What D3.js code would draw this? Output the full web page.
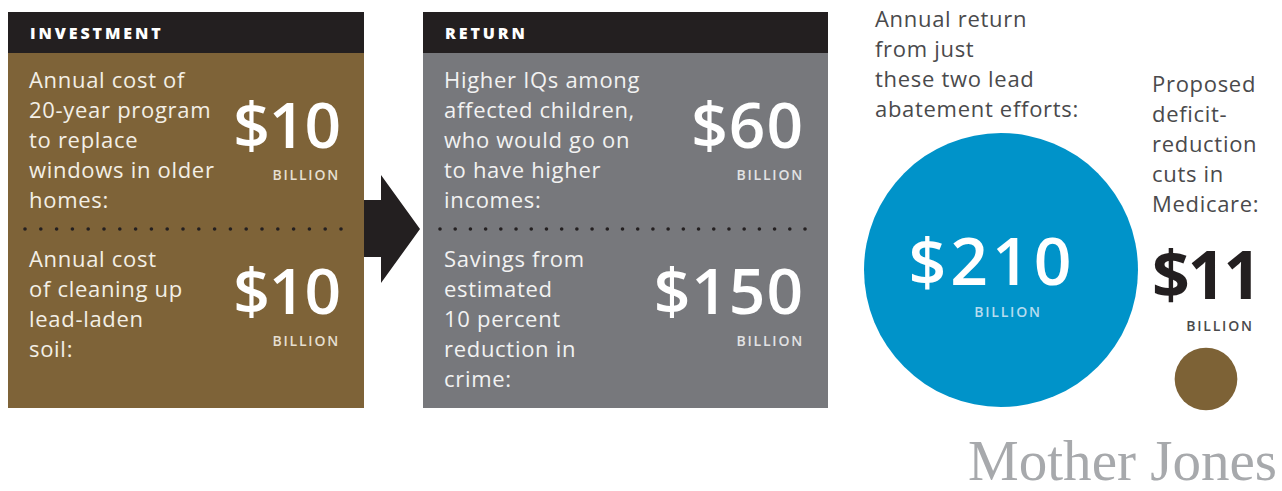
<!DOCTYPE html>
<html>
<head>
<meta charset="utf-8">
<script src="https://cdn.jsdelivr.net/npm/d3@7"></script>
<style>
  body { margin: 0; background: #fff; }
  svg { display: block; font-family: "Open Sans", "Noto Sans", sans-serif; }
</style>
</head>
<body>
<svg id="chart" width="1282" height="491"></svg>
<script>
// data (billions of dollars per year)
var investmentLabels = [
    ["Annual cost of", "20-year program", "to replace", "windows in older", "homes:"],
    ["Annual cost", "of cleaning up", "lead-laden", "soil:"]
];
var investmentValues = [10, 10];

var returnLabels = [
    ["Higher IQs among", "affected children,", "who would go on", "to have higher", "incomes:"],
    ["Savings from", "estimated", "10 percent", "reduction in", "crime:"]
];
var returnValues = [60, 150];

var circleLabels = [
    ["Annual return", "from just", "these two lead", "abatement efforts:"],
    ["Proposed", "deficit-", "reduction", "cuts in", "Medicare:"]
];
var circleValues = [210, 11];

var svg = d3.select("#chart");

var lineHeight = 30;
var firstBaseline = [88, 267];
var numBaseline = [148, 314];

function bodyText(sel){
    sel.attr("font-size", 22).attr("letter-spacing", 0.7);
}

function unitText(sel){
    sel.attr("font-size", 14).attr("font-weight", 600).attr("letter-spacing", 1.8);
}

function createPanel(x0, x1, title, labels, values, fill, textColor, unitColor, dotCount){
    var g = svg.append("g");
    g.append("rect")
        .attr("x", x0).attr("y", 12)
        .attr("width", x1 - x0).attr("height", 396)
        .attr("fill", fill);
    g.append("rect")
        .attr("x", x0).attr("y", 12)
        .attr("width", x1 - x0).attr("height", 41)
        .attr("fill", "#231f20");
    g.append("text")
        .attr("x", x0 + 22).attr("y", 39)
        .attr("fill", "#fff")
        .attr("font-size", 16).attr("font-weight", 800)
        .attr("letter-spacing", 2.9)
        .text(title);

    // dotted divider
    var dots = d3.scaleLinear().domain([0, dotCount - 1]).range([x0 + 17, x1 - 23]);
    g.selectAll(".dot").data(d3.range(dotCount)).join("circle")
        .attr("cx", d => dots(d)).attr("cy", 229).attr("r", 1.8)
        .attr("fill", "#231f20");

    labels.forEach((lines, i) => {
        g.append("text")
            .attr("fill", textColor)
            .call(bodyText)
            .selectAll("tspan").data(lines).join("tspan")
            .attr("x", x0 + 21)
            .attr("y", (d, j) => firstBaseline[i] + j * lineHeight)
            .text(d => d);

        g.append("text")
            .attr("x", x1 - 24).attr("y", numBaseline[i])
            .attr("text-anchor", "end")
            .attr("fill", "#fff")
            .attr("font-size", 64).attr("font-weight", 600)
            .attr("letter-spacing", values[i] > 10 ? 1 : -1)
            .text("$" + values[i]);

        g.append("text")
            .attr("x", x1 - 24).attr("y", numBaseline[i] + 32)
            .attr("text-anchor", "end")
            .attr("fill", unitColor)
            .call(unitText)
            .text("BILLION");
    });
}

createPanel(8, 364, "INVESTMENT", investmentLabels, investmentValues, "#7e6338", "#f3efe6", "#e6dfd0", 21);
createPanel(423, 828, "RETURN", returnLabels, returnValues, "#77787c", "#f2f2f2", "#e2e2e4", 25);

// arrow between the panels
svg.append("path")
    .attr("d", "M364,200 L381,200 L381,175 L420,229 L381,283 L381,257 L364,257 Z")
    .attr("fill", "#231f20");

// circles sized by area
var r = d3.scaleSqrt().domain([0, 210]).range([0, 137]);

svg.append("circle")
    .attr("cx", 1001).attr("cy", 270).attr("r", r(circleValues[0]))
    .attr("fill", "#0093c9");
svg.append("circle")
    .attr("cx", 1206).attr("cy", 379).attr("r", r(circleValues[1]))
    .attr("fill", "#7d6236");

var labelX = [875, 1152];
var labelTop = [27, 92];
circleLabels.forEach((lines, i) => {
    svg.append("text")
        .attr("fill", "#4a4a4c")
        .call(bodyText)
        .selectAll("tspan").data(lines).join("tspan")
        .attr("x", labelX[i])
        .attr("y", (d, j) => labelTop[i] + j * lineHeight)
        .text(d => d);
});

svg.append("text")
    .attr("x", 992).attr("y", 285)
    .attr("text-anchor", "middle")
    .attr("fill", "#fff")
    .attr("font-size", 66).attr("font-weight", 600)
    .attr("letter-spacing", 4)
    .text("$" + circleValues[0]);
svg.append("text")
    .attr("x", 1008).attr("y", 317)
    .attr("text-anchor", "middle")
    .attr("fill", "#b6dcef")
    .call(unitText)
    .text("BILLION");

svg.append("text")
    .attr("x", 1152).attr("y", 299)
    .attr("fill", "#231f20")
    .attr("font-size", 66).attr("font-weight", 700)
    .attr("letter-spacing", -2)
    .text("$" + circleValues[1]);
svg.append("text")
    .attr("x", 1220).attr("y", 331)
    .attr("text-anchor", "middle")
    .attr("fill", "#4a4a4c")
    .call(unitText)
    .text("BILLION");

svg.append("text")
    .attr("x", 968).attr("y", 480)
    .attr("fill", "#a7a9ac")
    .attr("font-family", "'Liberation Serif', serif")
    .attr("font-size", 56)
    .attr("textLength", 309).attr("lengthAdjust", "spacingAndGlyphs")
    .text("Mother Jones");
</script>
</body>
</html>
